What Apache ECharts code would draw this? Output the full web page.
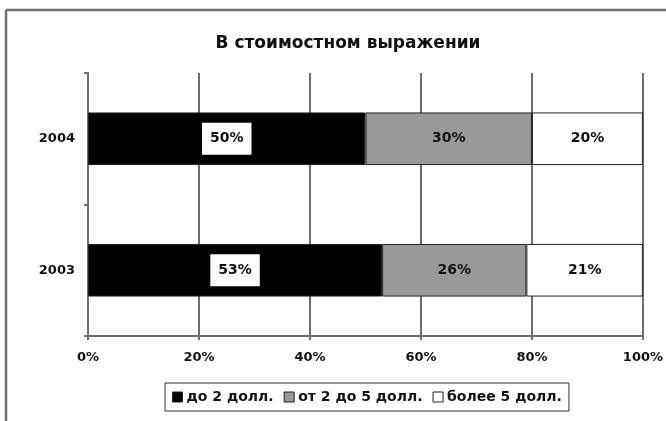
<!DOCTYPE html>
<html>
<head>
<meta charset="utf-8">
<style>
  html, body { margin: 0; padding: 0; background: #fff; }
  #chart { width: 666px; height: 421px; }
</style>
<script src="https://cdn.jsdelivr.net/npm/echarts@6/dist/echarts.min.js"></script>
</head>
<body>
<div id="chart"></div>
<script>
// Categories run bottom-to-top on the category axis
const years = ['2003', '2004'];
const seriesNames = ['до 2 долл.', 'от 2 до 5 долл.', 'более 5 долл.'];
const under2 = [53, 50];
const from2to5 = [26, 30];
const over5 = [21, 20];
const xTicks = [0, 20, 40, 60, 80, 100];

const FONT = '"DejaVu Sans", Arial, sans-serif';
const chart = echarts.init(document.getElementById('chart'), null, { renderer: 'canvas' });

const labelBase = {
  show: true,
  position: 'inside',
  formatter: '{c}%',
  fontFamily: FONT,
  fontWeight: 'bold',
  fontSize: 14,
  color: '#111'
};

function barSeries(name, data, fill, extraLabel) {
  return {
    name: name,
    type: 'bar',
    stack: 'share',
    barWidth: '40%',
    data: data,
    itemStyle: { color: fill, borderColor: '#222', borderWidth: 1 },
    label: Object.assign({}, labelBase, extraLabel || {}),
    emphasis: { disabled: true }
  };
}

chart.setOption({
  animation: false,
  backgroundColor: '#fff',
  graphic: [
    // outer chart frame (top and left edges visible)
    { type: 'line', shape: { x1: 6, y1: 10, x2: 666, y2: 10 }, style: { stroke: '#707070', lineWidth: 2.5 } },
    { type: 'line', shape: { x1: 6, y1: 10, x2: 6, y2: 421 }, style: { stroke: '#707070', lineWidth: 2.5 } }
  ],
  title: {
    text: 'В стоимостном выражении',
    left: 343,
    top: 30,
    textAlign: 'center',
    textStyle: { fontFamily: FONT, fontWeight: 'bold', fontSize: 17, color: '#111' }
  },
  legend: {
    data: seriesNames,
    left: 165,
    top: 383,
    padding: [7, 7, 7, 7],
    itemGap: 10,
    itemWidth: 10,
    itemHeight: 10,
    itemStyle: { borderColor: '#222', borderWidth: 1 },
    icon: 'rect',
    borderColor: '#333',
    borderWidth: 1,
    backgroundColor: '#fff',
    textStyle: { fontFamily: FONT, fontWeight: 'bold', fontSize: 14, color: '#111', padding: [0, 0, 0, -1] },
    selectedMode: false
  },
  grid: { left: 88, right: 20, top: 73, bottom: 85, containLabel: false },
  xAxis: {
    type: 'value',
    min: xTicks[0],
    max: xTicks[xTicks.length - 1],
    interval: 20,
    axisLine: { show: true, lineStyle: { color: '#6e6e6e', width: 2 } },
    axisTick: { show: true, length: 4, lineStyle: { color: '#6e6e6e', width: 2 } },
    splitLine: { show: true, lineStyle: { color: '#6e6e6e', width: 2 } },
    axisLabel: {
      formatter: '{value}%',
      margin: 15,
      fontFamily: FONT,
      fontWeight: 'bold',
      fontSize: 13,
      color: '#111'
    }
  },
  yAxis: {
    type: 'category',
    data: years,
    axisLine: { show: true, lineStyle: { color: '#6e6e6e', width: 2 } },
    axisTick: { show: true, length: 4, alignWithLabel: false, lineStyle: { color: '#6e6e6e', width: 2 } },
    splitLine: { show: false },
    axisLabel: {
      margin: 13,
      fontFamily: FONT,
      fontWeight: 'bold',
      fontSize: 13,
      color: '#111'
    }
  },
  series: [
    barSeries(seriesNames[0], under2, '#000', {
      backgroundColor: '#fff',
      padding: [9, 8],
      color: '#111'
    }),
    barSeries(seriesNames[1], from2to5, '#999'),
    barSeries(seriesNames[2], over5, '#fff')
  ]
});
</script>
</body>
</html>
